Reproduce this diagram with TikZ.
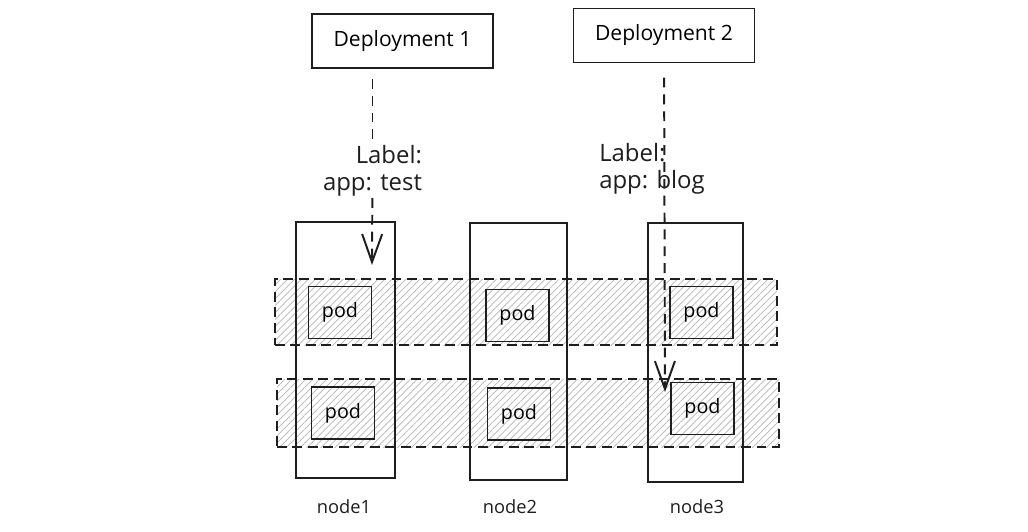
\documentclass[tikz,border=0pt]{standalone}
\usepackage{fontspec}
\setmainfont{Open Sans}
\usetikzlibrary{arrows.meta,patterns.meta}
\definecolor{ink}{RGB}{30,30,30}
\definecolor{hatch}{RGB}{180,180,180}
\newcommand\pxu{0.025cm}

\begin{document}
\begin{tikzpicture}[x=0.025cm, y=-0.025cm,
    dep/.style={rectangle, draw=ink, line width=1.4pt, inner sep=0pt,
              minimum width={181*\pxu}, minimum height={54*\pxu},
              font=\fontsize{15}{18}\selectfont},
    col/.style={rectangle, draw=ink, line width=1.4pt, inner sep=0pt},
    band/.style={rectangle, draw=ink, line width=1.4pt, inner sep=0pt,
              dash pattern=on 7pt off 4pt,
              pattern={Lines[angle=45, distance=3.5pt, line width=0.5pt]},
              pattern color=hatch,
              minimum width={502*\pxu}},
    pod/.style={rectangle, draw=ink, line width=1.4pt, inner sep=0pt,
              minimum width={63*\pxu}, minimum height={52*\pxu},
              font=\fontsize{14}{16}\selectfont},
    lab/.style={font=\fontsize{13}{16}\selectfont, color=ink},
    sel/.style={font=\fontsize{17}{19}\selectfont, color=ink},
    dashln/.style={draw=ink, line width=1.4pt, dash pattern=on 7pt off 5pt},
    dasharr/.style={dashln, -{Straight Barb[length=0.7cm, width=0.5cm]}}]
  \useasboundingbox (0,0) rectangle (1028,532);

  % ---------- the two rows, hatched -----------------------------------------
  \node[band, minimum height={66*\pxu}] (row1) at (526,312) {};
  \node[band, minimum height={68*\pxu}] (row2) at (528,413) {};

  % ---------- the three k8s nodes -------------------------------------------
  \node[col, minimum width={99*\pxu}, minimum height={256*\pxu}] (col1) at (345.5,350) {};
  \node[col, minimum width={97*\pxu}, minimum height={257*\pxu}] (col2) at (518.5,351.5) {};
  \node[col, minimum width={95*\pxu}, minimum height={259*\pxu}] (col3) at (695.5,352.5) {};
  \node[lab] (n1) at (344,507) {node1};
  \node[lab] (n2) at (510,507) {node2};
  \node[lab] (n3) at (697,507) {node3};

  % ---------- pods ----------------------------------------------------------
  \foreach \n/\x/\y in {11/340/312.5, 12/517.5/315.5, 13/701.5/312.5,
                        21/343/413, 22/519/414, 23/702.5/408.5} {
    \node[pod] (p\n) at (\x,\y) {pod};
  }

  % ---------- deployments and their selectors -------------------------------
  \node[dep] (dep1) at (402.5,41) {Deployment 1};
  \node[dep] (dep2) at (664,35.5) {Deployment 2};

  \coordinate (tip1) at (372,265);
  \coordinate (tip2) at (665,392);

  \node[sel, align=right, fill=white, inner sep=1pt] (lbl1) at (372.5,171) {Label:\\app: test};
  \draw[dashln, shorten <=7pt] (dep1.south -| lbl1) -- (lbl1);
  \draw[dasharr] (lbl1) -- (tip1);

  \draw[dasharr, shorten <=10pt] (dep2) -- (tip2);
  \node[sel, align=left] (lbl2) at (652,169) {Label:\\app: blog};
\end{tikzpicture}
\end{document}
